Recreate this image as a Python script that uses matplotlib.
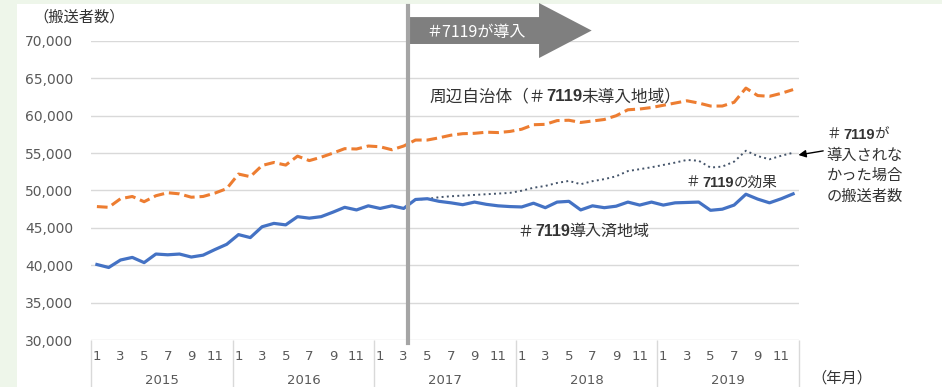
import numpy as np
import matplotlib
matplotlib.use("Agg")
import matplotlib.pyplot as plt
from matplotlib.patches import Polygon, Rectangle
from matplotlib.transforms import blended_transform_factory, offset_copy
from matplotlib.ticker import FuncFormatter

# ---- data -------------------------------------------------------------
years = ["2015", "2016", "2017", "2018", "2019"]
month_labels = ["1", "3", "5", "7", "9", "11"]

# areas where #7119 has been introduced (monthly transports)
implemented = [
    40100, 39700, 40700, 41050, 40350, 41500, 41400, 41500, 41100, 41350, 42100, 42800,
    44100, 43700, 45150, 45600, 45400, 46500, 46300, 46500, 47100, 47750, 47400, 47950,
    47600, 47950, 47600, 48800, 48900, 48550, 48350, 48100, 48450, 48150, 47950, 47850,
    47800, 48300, 47700, 48450, 48550, 47400, 47950, 47700, 47900, 48450, 48050, 48450,
    48050, 48350, 48400, 48450, 47350, 47500, 48050, 49500, 48850, 48350, 48900, 49550,
]
# neighbouring municipalities without #7119
neighbors = [
    47850, 47750, 48900, 49200, 48500, 49300, 49700, 49550, 49100, 49200, 49650, 50250,
    52200, 51850, 53350, 53750, 53400, 54600, 54000, 54450, 55000, 55600, 55550, 55950,
    55850, 55450, 55950, 56750, 56750, 57050, 57400, 57600, 57650, 57800, 57750, 57900,
    58200, 58800, 58850, 59350, 59400, 59100, 59300, 59500, 60000, 60800, 60900, 61100,
    61400, 61700, 62000, 61700, 61300, 61300, 61800, 63700, 62700, 62600, 63000, 63500,
]
# estimated transports had #7119 not been introduced (Apr 2017 onward)
counterfactual = [
    48800, 48870, 49100, 49230, 49320, 49410, 49500, 49590, 49680,
    49970, 50370, 50610, 51010, 51280, 50840, 51250, 51520, 51900, 52600, 52850, 53110,
    53420, 53730, 54090, 53980, 53070, 53200, 53860, 55320, 54600, 54180, 54650, 55050,
]
start_idx = len(implemented) - len(counterfactual)   # Apr 2017
intro_x = 26.35                                        # #7119 launch marker

# ---- figure -----------------------------------------------------------
W, H, DPI = 942, 387, 100
fig = plt.figure(figsize=(W / DPI, H / DPI), dpi=DPI, facecolor="#EEF6EA")
fig.patches.append(Rectangle((17 / W, 0), 1 - 17 / W, 1 - 4 / H,
                             transform=fig.transFigure, facecolor="white",
                             edgecolor="none", zorder=-1))
ax = fig.add_axes([91 / W, 1 - 340 / H, 708 / W, 299 / H])
ax.set_facecolor("white")

CJK = ["Noto Sans CJK JP", "DejaVu Sans"]
TXT = "#333333"
TICK = "#595959"

x = np.arange(len(implemented))
ax.plot(x, neighbors, color="#ED7D31", lw=2.2, ls=(0, (3.5, 1.6)),
        dash_capstyle="butt", zorder=3)
ax.plot(x[start_idx:], counterfactual, color="#44546A", lw=1.4,
        ls=(0, (1, 1.7)), zorder=3)
ax.plot(x, implemented, color="#4472C4", lw=2.3, solid_joinstyle="round", zorder=4)

ax.set_xlim(-0.5, len(x) - 0.5)
ax.set_ylim(30000, 70000)
ax.set_yticks(range(30000, 70001, 5000))
ax.yaxis.set_major_formatter(FuncFormatter(lambda v, p: f"{int(v):,}"))
ax.grid(axis="y", color="#D9D9D9", lw=1)
ax.set_axisbelow(True)
ax.tick_params(axis="y", length=0, pad=13, labelsize=10, labelcolor=TICK)
for s in ax.spines.values():
    s.set_visible(False)

# two-level month / year axis
ax.set_xticks(x[::2])
ax.set_xticklabels(month_labels * len(years))
ax.set_xticks(np.arange(-0.5, len(x), 12), minor=True)
ax.tick_params(axis="x", which="major", length=0, pad=7, labelsize=9.5, labelcolor=TICK)
ax.tick_params(axis="x", which="minor", length=34, width=1, color="#D9D9D9")
bt = blended_transform_factory(ax.transData, ax.transAxes)
for i, yr in enumerate(years):
    ax.text(i * 12 + 5.5, -0.137, yr, transform=bt, ha="center", va="center",
            fontsize=9.5, color=TICK)

# launch marker and arrow
ax.axvline(intro_x, ymin=-0.01, ymax=1.117, color="#A5A5A5", lw=3,
           clip_on=False, zorder=6)
arrow = Polygon([(intro_x, 0.990), (37.47, 0.990), (37.47, 0.943), (41.93, 1.035),
                 (37.47, 1.127), (37.47, 1.080), (intro_x, 1.080)],
                closed=True, transform=bt, facecolor="#7F7F7F", edgecolor="none",
                clip_on=False, zorder=5)
ax.add_patch(arrow)
ax.text(27.9, 1.015, "＃7119が導入", transform=bt, family=CJK, fontsize=11.5,
        color="white", va="baseline", ha="left", zorder=7)

renderer = fig.canvas.get_renderer()


def rich_text(xp, yp, parts, size):
    """Draw text pieces side by side on a shared baseline."""
    dx = 0
    for s, bold, gap in parts:
        tr = offset_copy(ax.transData, fig=fig, x=dx, y=0, units="dots")
        if bold:
            t = ax.text(xp, yp, s, transform=tr, family="Liberation Sans",
                        fontweight="bold", fontsize=size, color=TXT,
                        va="baseline", ha="left")
        else:
            t = ax.text(xp, yp, s, transform=tr, family=CJK, fontsize=size,
                        color=TXT, va="baseline", ha="left")
        dx += t.get_window_extent(renderer).width + gap


rich_text(28.2, 61950, [("周辺自治体（＃", False, 0), ("7119", True, -1),
                        ("未導入地域）", False, 0)], 12)
rich_text(35.6, 43900, [("＃", False, 2), ("7119", True, -1),
                        ("導入済地域", False, 0)], 11.5)
rich_text(49.85, 50460, [("＃", False, 3), ("7119", True, -1),
                         ("の効果", False, 0)], 10.5)

rich_text(61.8, 56870, [("＃", False, 3), ("7119", True, -1), ("が", False, 0)], 10.5)
for line, yv in zip(["導入されな", "かった場合", "の搬送者数"], [54060, 51390, 48580]):
    ax.text(61.85, yv, line, family=CJK, fontsize=11, color=TXT,
            va="baseline", ha="left")

ax.annotate("", xy=(59.45, 54750), xytext=(61.55, 55300),
            arrowprops=dict(arrowstyle="-|>", color="black", lw=1,
                            mutation_scale=11, shrinkA=0, shrinkB=0),
            annotation_clip=False)

fig.text(33 / W, 1 - 17 / H, "（搬送者数）", family=CJK, fontsize=11,
         color=TXT, va="center", ha="left")
fig.text(811 / W, 1 - 378 / H, "（年月）", family=CJK, fontsize=11,
         color=TXT, va="center", ha="left")

fig.savefig("out.png", dpi=DPI, facecolor=fig.get_facecolor())
